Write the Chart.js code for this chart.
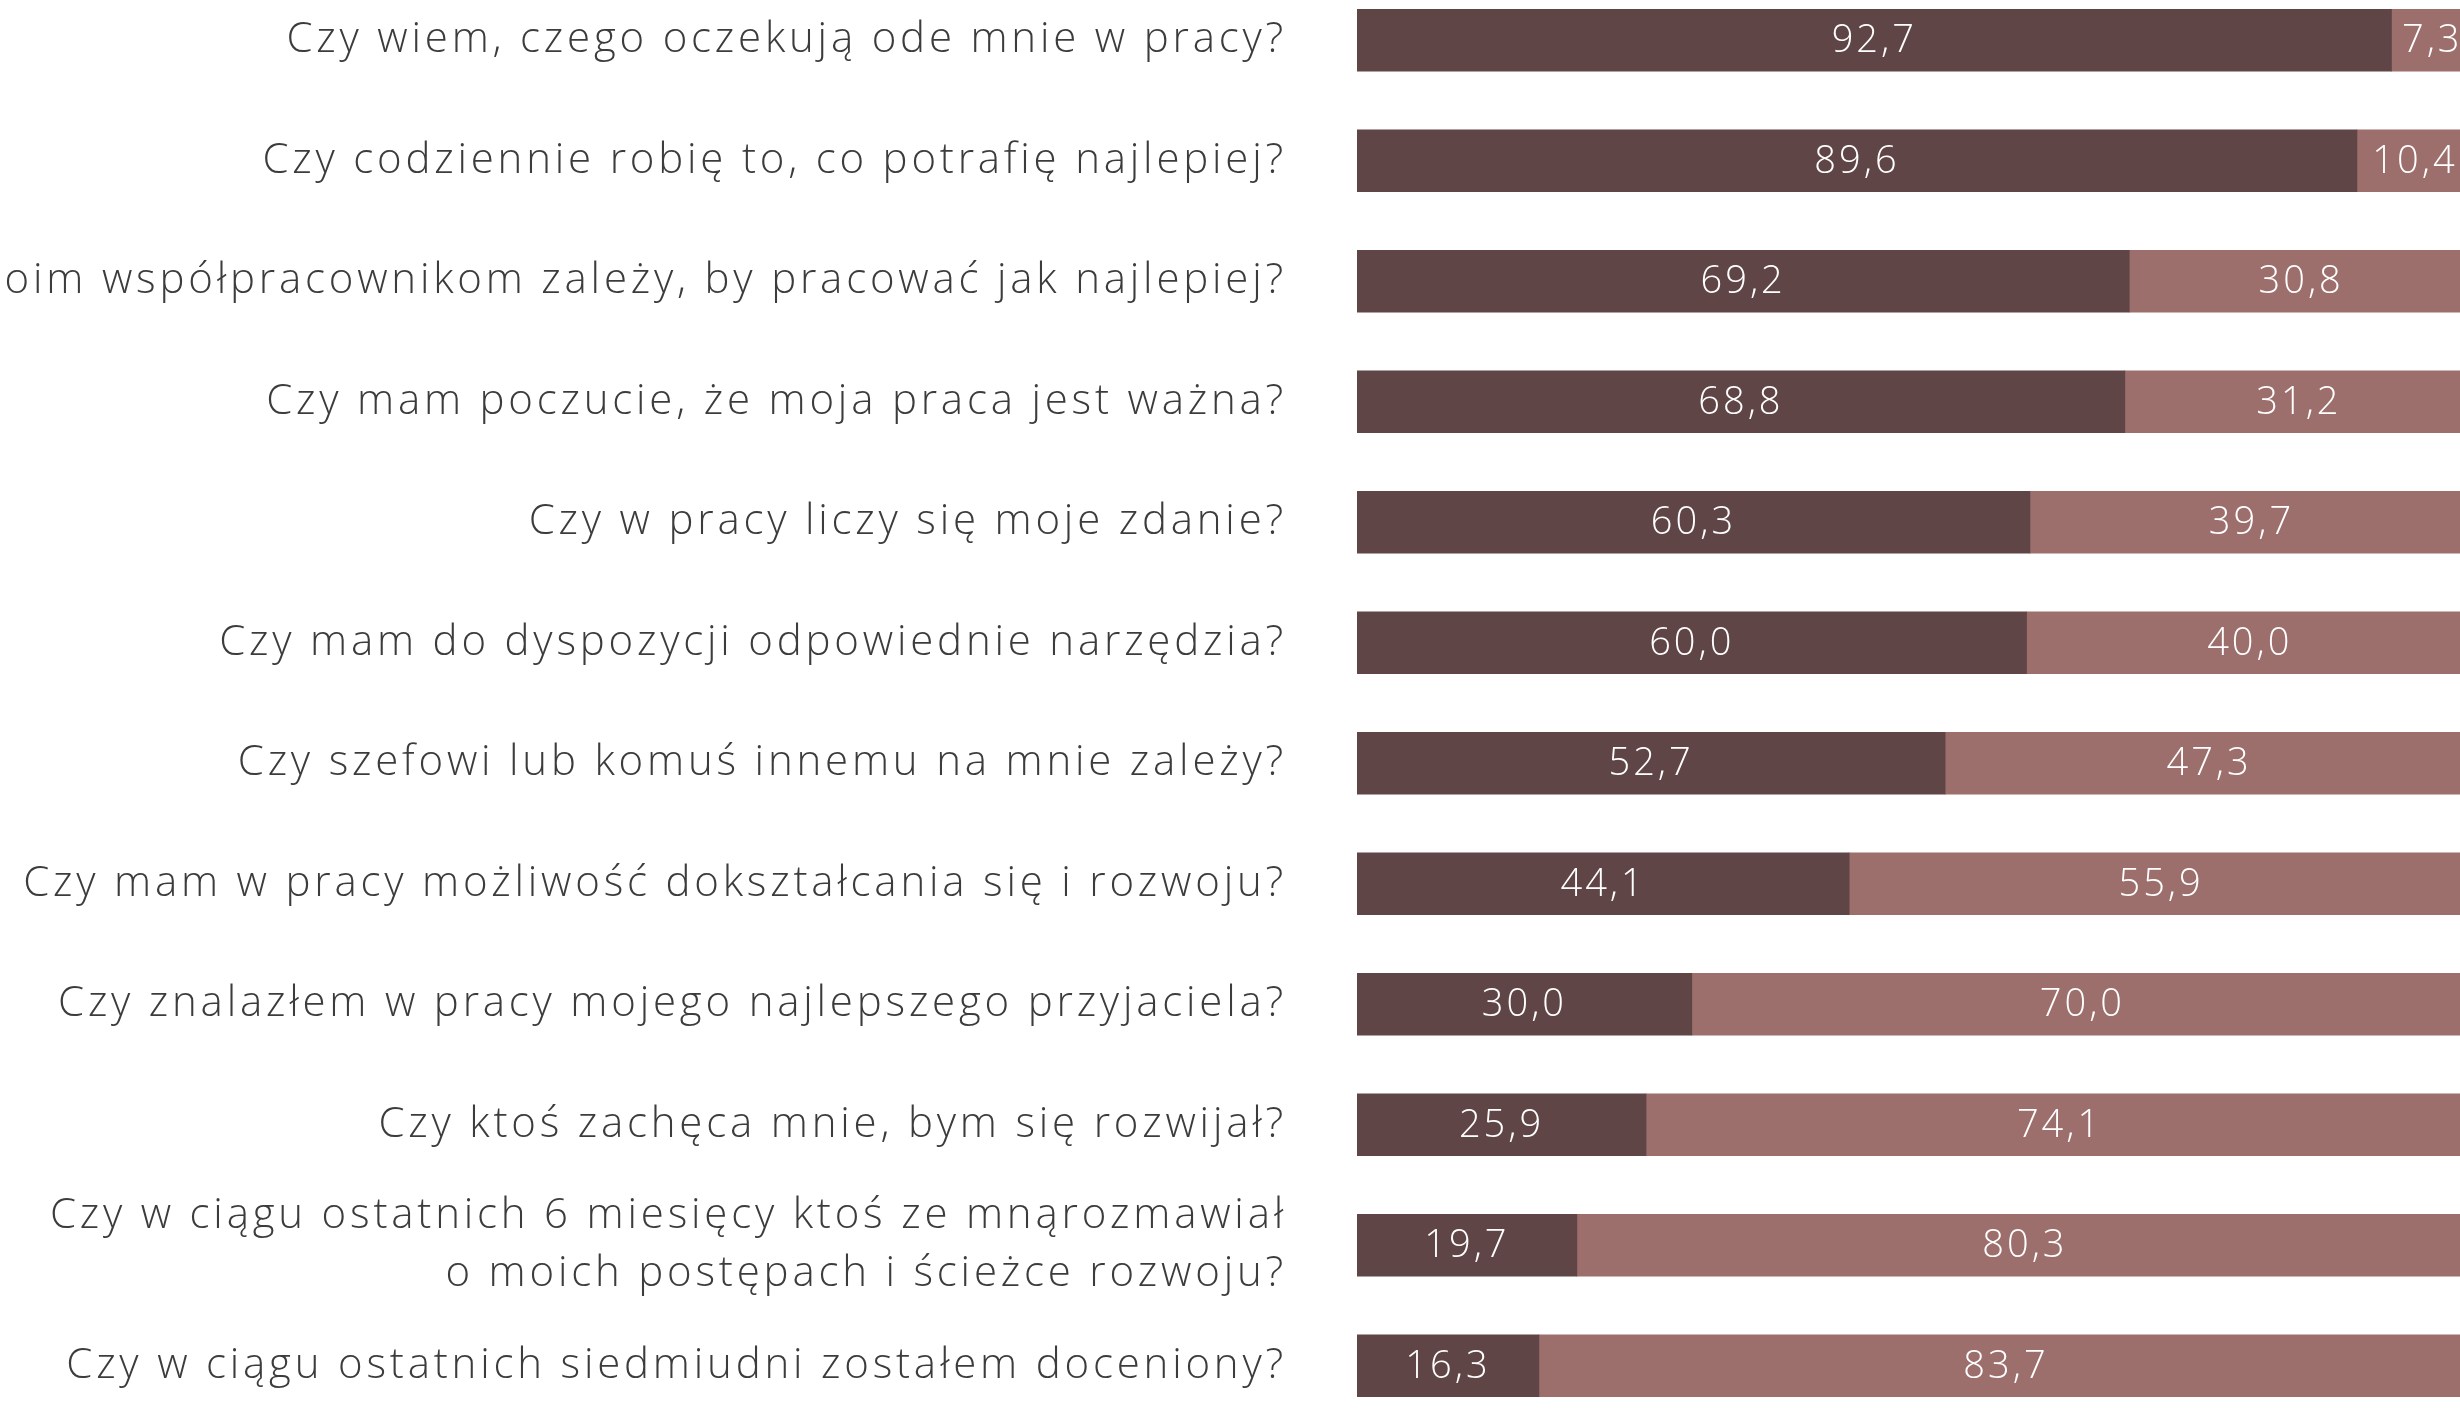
<!DOCTYPE html>
<html>
<head>
<meta charset="utf-8">
<script src="https://cdn.jsdelivr.net/npm/chart.js@4.4.1/dist/chart.umd.min.js"></script>
<style>
  html, body { margin: 0; background: #fff; overflow: hidden; width: 2460px; height: 1413px; }
  #wrap { position: absolute; left: 0; top: -20px; width: 2473px; height: 1446px; }
</style>
</head>
<body>
<div id="wrap"><canvas id="c"></canvas></div>
<script>
// Survey questions (the picture cuts the first words of the third one off on the left)
const questions = [
  "Czy wiem, czego oczekują ode mnie w pracy?",
  "Czy codziennie robię to, co potrafię najlepiej?",
  "Czy moim współpracownikom zależy, by pracować jak najlepiej?",
  "Czy mam poczucie, że moja praca jest ważna?",
  "Czy w pracy liczy się moje zdanie?",
  "Czy mam do dyspozycji odpowiednie narzędzia?",
  "Czy szefowi lub komuś innemu na mnie zależy?",
  "Czy mam w pracy możliwość dokształcania się i rozwoju?",
  "Czy znalazłem w pracy mojego najlepszego przyjaciela?",
  "Czy ktoś zachęca mnie, bym się rozwijał?",
  ["Czy w ciągu ostatnich 6 miesięcy ktoś ze mnąrozmawiał", "o moich postępach i ścieżce rozwoju?"],
  "Czy w ciągu ostatnich siedmiudni zostałem doceniony?",
];
const yesShare = [92.7, 89.6, 69.2, 68.8, 60.3, 60.0, 52.7, 44.1, 30.0, 25.9, 19.7, 16.3];
const noShare  = [7.3, 10.4, 30.8, 31.2, 39.7, 40.0, 47.3, 55.9, 70.0, 74.1, 80.3, 83.7];

const FONT = "'Open Sans', Lato, sans-serif";

// the original uses a wide, light geometric face; widen ours a little
const spacing = {
  id: "spacing",
  beforeDraw(chart) { chart.ctx.letterSpacing = "3.8px"; },
};

// white value labels centred in each segment, decimal comma like the original
const segLabels = {
  id: "segLabels",
  afterDatasetsDraw(chart) {
    const ctx = chart.ctx;
    ctx.save();
    ctx.letterSpacing = "3px";
    ctx.fillStyle = "#ffffff";
    ctx.font = "300 38px " + FONT;
    ctx.textAlign = "center";
    ctx.textBaseline = "middle";
    chart.data.datasets.forEach((ds, di) => {
      chart.getDatasetMeta(di).data.forEach((bar, i) => {
        const v = ds.data[i];
        ctx.fillText(v.toFixed(1).replace(".", ","), (bar.x + bar.base) / 2, bar.y + 1);
      });
    });
    ctx.restore();
  },
};

new Chart(document.getElementById("c"), {
  type: "bar",
  data: {
    labels: questions,
    datasets: [
      { label: "Tak", data: yesShare, backgroundColor: "#604546", barThickness: 62 },
      { label: "Nie", data: noShare, backgroundColor: "#9c6e6c", barThickness: 62 },
    ],
  },
  options: {
    indexAxis: "y",
    responsive: true,
    maintainAspectRatio: false,
    animation: false,
    layout: { padding: 0 },
    plugins: { legend: { display: false }, tooltip: { enabled: false } },
    scales: {
      x: { stacked: true, min: 0, max: 100, display: false },
      y: {
        stacked: true,
        grid: { display: false, drawTicks: false },
        border: { display: false },
        ticks: {
          padding: 70,
          color: "#3c3c3c",
          font: { family: FONT, size: 42, weight: "300", lineHeight: 1.38 },
        },
        afterFit(scale) {
          scale.width = 1357;
          scale.paddingTop = 0;
          scale.paddingBottom = 0;
        },
      },
    },
  },
  plugins: [spacing, segLabels],
});
</script>
</body>
</html>
